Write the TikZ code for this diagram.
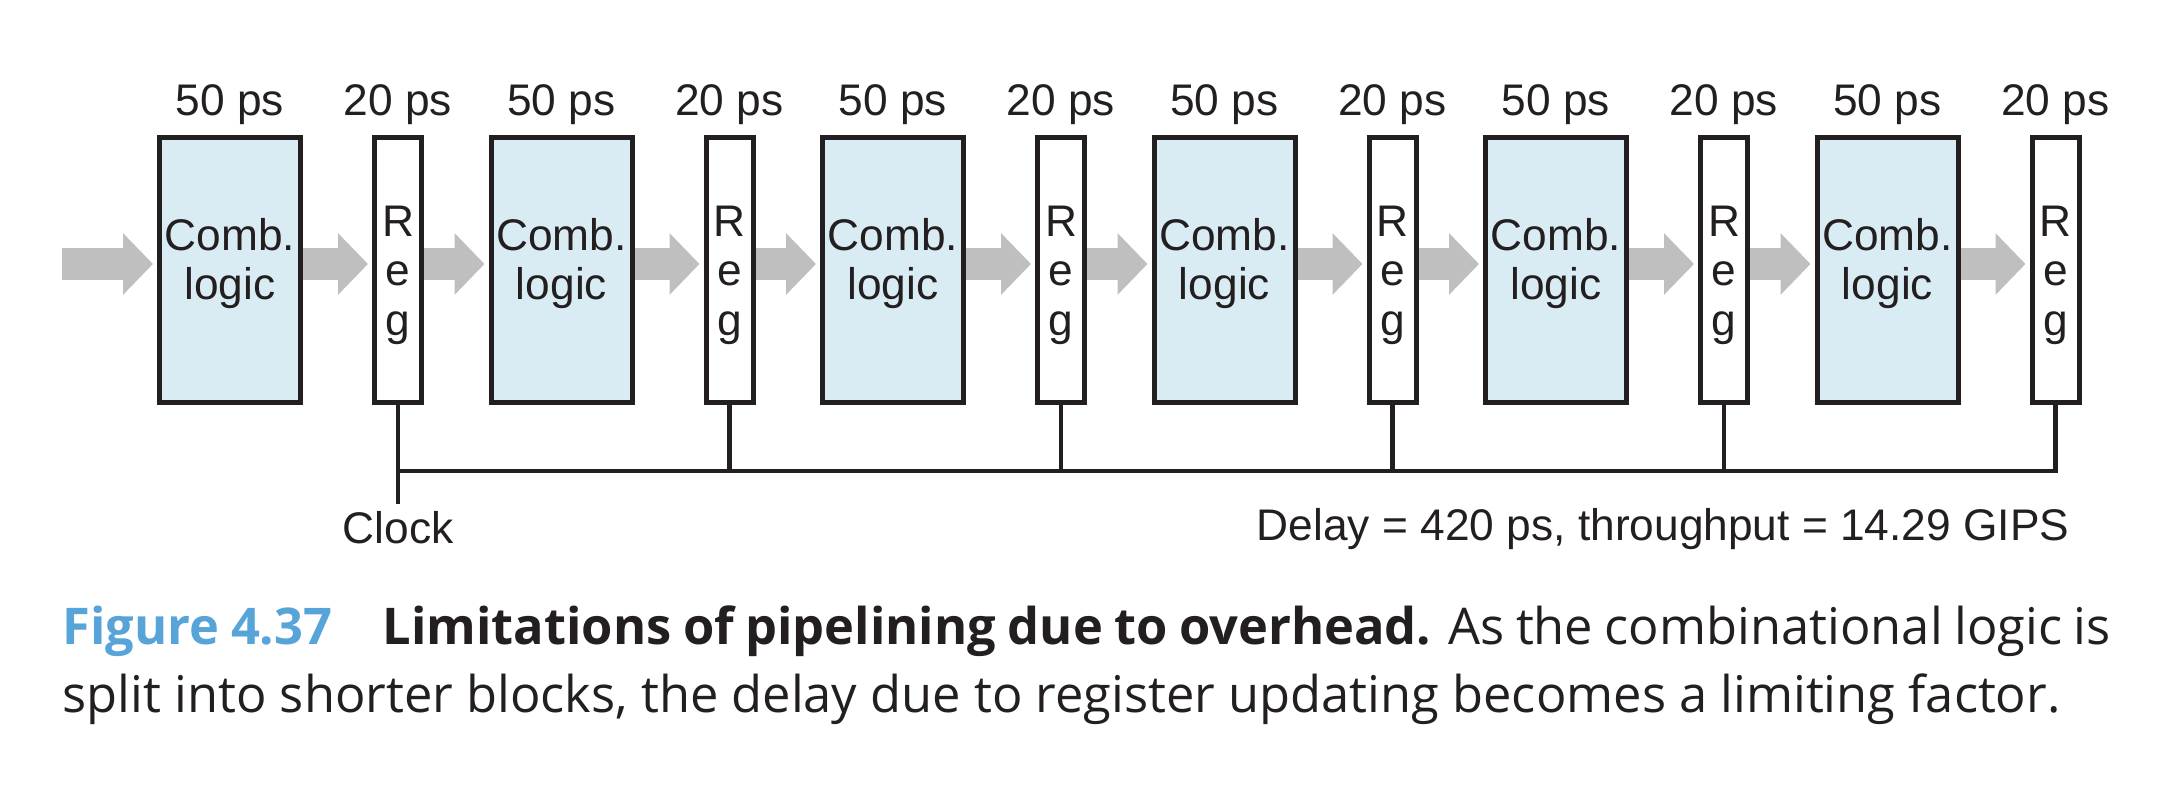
\documentclass[tikz,border=0pt]{standalone}
\usepackage{fontspec}
\setmainfont{Liberation Sans}
\newfontfamily\capfont{Open Sans}
\usetikzlibrary{arrows.meta}
\definecolor{combfill}{RGB}{217,236,244}
\definecolor{flowgray}{RGB}{191,191,191}
\definecolor{inkblack}{RGB}{35,31,32}
\definecolor{figblue}{RGB}{86,164,216}
\begin{document}
\begin{tikzpicture}[
  every node/.style={text=inkblack, font=\fontsize{12.6}{14.2}\selectfont},
  comb/.style={draw=inkblack, line width=0.05cm, fill=combfill, minimum width=1.41cm,
    minimum height=2.65cm, inner sep=0pt, align=center, text depth=0.22cm},
  reg/.style={draw=inkblack, line width=0.05cm, fill=white, minimum width=0.47cm,
    minimum height=2.65cm, inner sep=0pt, align=center, text height=1.41cm},
  flow/.style={draw=flowgray, line width=0.32cm, -{Triangle[length=0.3cm,width=0.6cm]},
    shorten >=0.04cm},
  wire/.style={draw=inkblack, line width=0.045cm}
]
\useasboundingbox (0,0) rectangle (21.62,7.94);
% stages
\foreach \i in {1,...,6} {
  \node[comb] (c\i) at ({2.30+3.315*(\i-1)},5.24) {Comb.\\logic};
  \node[reg] (r\i) at ({3.98+3.315*(\i-1)},5.24) {R\\e\\g};
  \node[anchor=base] (t\i) at (c\i |- 0,6.78) {50 ps};
  \node[anchor=base] (u\i) at (r\i |- 0,6.78) {20 ps};
}
% data flow
\coordinate (in) at (0.62,5.30);
\draw[flow] (in) -- ([yshift=0.06cm]c1.west);
\foreach \i in {1,...,6} {
  \draw[flow] ([yshift=0.06cm]c\i.east) -- ([yshift=0.06cm]r\i.west);
}
\foreach \i [count=\j from 2] in {1,...,5} {
  \draw[flow] ([yshift=0.06cm]r\i.east) -- ([yshift=0.06cm]c\j.west);
}
% clock
\coordinate (clk) at (r1.south |- 0,2.90);
\coordinate (bus) at (r1.south |- 0,3.23);
\draw[wire] (r1.south) -- (clk);
\draw[wire] (bus) -| (r6.south);
\foreach \i in {2,...,5} {
  \draw[wire] (r\i.south) -- (r\i.south |- bus);
}
\node[below, inner sep=0pt] (clocklbl) at ([yshift=-0.07cm]clk) {Clock};
\node[anchor=base east, inner sep=0pt] (delay) at (20.70,2.53)
  {Delay = 420 ps, throughput = 14.29 GIPS};
% caption
\node[anchor=base west, inner sep=0pt, text width=20.48cm, align=justify,
  font=\capfont\fontsize{14.4}{19.3}\selectfont] (caption) at (0.62,1.49)
  {\textcolor{figblue}{\textbf{Figure 4.37}}\quad\textbf{Limitations of pipelining due to
  overhead.} As the combinational logic is\linebreak split into shorter blocks, the delay
  due to register updating becomes a limiting factor.};
\end{tikzpicture}
\end{document}
